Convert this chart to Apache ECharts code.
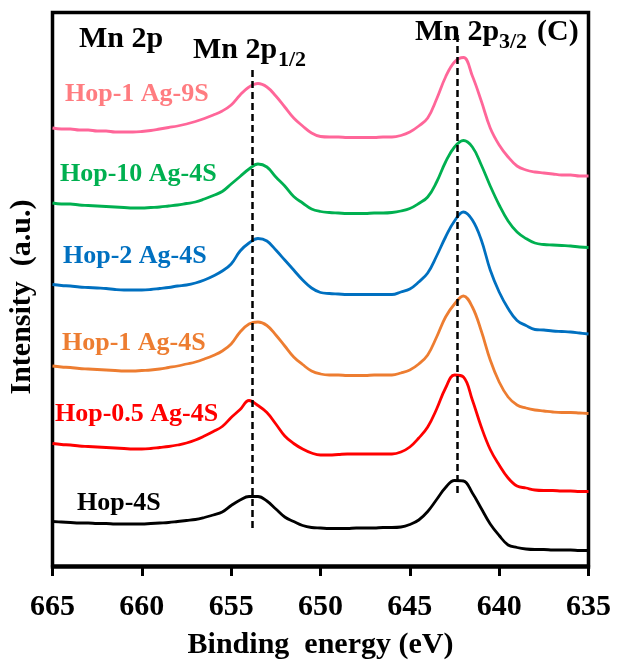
<!DOCTYPE html>
<html>
<head>
<meta charset="utf-8">
<script src="https://cdn.jsdelivr.net/npm/echarts@6/dist/echarts.min.js"></script>
<style>
html,body{margin:0;padding:0;background:#fff;}
#chart{width:618px;height:663px;}
</style>
</head>
<body>
<div id="chart"></div>
<script>
// Binding energy (eV), sampled every 0.5 eV
const energy = [665, 664.5, 664, 663.5, 663, 662.5, 662, 661.5, 661, 660.5,
  660, 659.5, 659, 658.5, 658, 657.5, 657, 656.5, 656, 655.5,
  655, 654.5, 654, 653.5, 653, 652.5, 652, 651.5, 651, 650.5,
  650, 649.5, 649, 648.5, 648, 647.5, 647, 646.5, 646, 645.5,
  645, 644.5, 644, 643.5, 643, 642.5, 642, 641.5, 641, 640.5,
  640, 639.5, 639, 638.5, 638, 637.5, 637, 636.5, 636, 635.5, 635];

// Offset intensities (a.u.)
const hop1Ag9S = [438, 437, 437, 436, 436, 435, 435, 434, 434, 434,
  434.5, 435.5, 437, 438.5, 440, 442, 444.5, 447.5, 451, 455,
  461, 471, 479, 482.5, 479, 470, 459, 448, 440, 433,
  429.5, 429, 429, 428.5, 428.5, 428.5, 428.5, 429, 429, 430.5,
  434, 440, 448, 467, 489, 504, 508.5, 490, 465, 438,
  421, 409, 400, 396, 394, 393, 392, 391, 391, 390, 390];

const hop10Ag4S = [363, 362, 362, 361, 360.5, 360, 359.5, 359, 358.5, 358,
  358, 358.5, 359, 360, 361, 362.5, 364, 367, 370.5, 374.5,
  382, 389.5, 397, 402, 399, 389, 380, 369.5, 363, 357,
  354.5, 353.5, 353, 352.5, 352.5, 352.5, 353, 353, 353.5, 355,
  357.5, 362.5, 369, 384, 404, 419, 425.5, 419, 401, 380,
  361, 345, 334, 327.5, 323, 321.5, 321, 320.5, 320, 319, 318.5];

const hop2Ag4S = [281.5, 280.5, 280, 279, 278.5, 278, 277.5, 276.5, 276, 276,
  276, 276.5, 277.5, 278.5, 280, 281, 283, 286, 290, 295,
  302, 315, 323, 327.5, 325, 316, 306, 296, 286, 278,
  273.5, 272.5, 272, 271.5, 271.5, 271.5, 271.5, 271.5, 271.5, 274,
  277, 284, 293, 310, 329, 345, 354, 346, 326, 296,
  274, 257.5, 245.5, 240.5, 236.5, 236, 235, 234.5, 234, 233, 232];

const hop1Ag4S = [200, 199, 198.5, 197.5, 197, 196.5, 196, 195.5, 195, 195,
  195.5, 196, 197, 198.5, 200, 202, 204, 207, 210.5, 215,
  222, 234, 242, 244, 240.5, 231, 220, 209, 201.5, 195,
  192, 191, 191, 190.5, 190.5, 190.5, 191, 191, 191, 193,
  196, 202, 211, 229, 249, 262, 270, 259, 235, 206,
  184, 169, 161, 158, 156, 155, 154, 153.5, 153.5, 153, 152.5];

const hop05Ag4S = [122.5, 121.5, 121, 120, 119.5, 119, 118.5, 118, 117.5, 117,
  117, 117.5, 118.5, 119.5, 121, 123, 126, 130, 134.5, 139.5,
  148.5, 156.5, 165.5, 160.5, 153.5, 142, 130, 122.5, 117, 113,
  111, 111, 111.5, 112, 112, 112, 112, 112, 112, 114,
  119, 128, 139, 157, 178, 191, 189, 166, 139, 116.5,
  101, 88, 80, 78, 76, 75.5, 75.5, 75, 75, 74.5, 74.5];

const hop4S = [44.5, 44, 43.5, 43, 43, 42.5, 42.5, 42, 42, 42,
  42, 42.5, 43, 43.5, 44.5, 45.5, 46.5, 48.5, 51, 54,
  60.5, 66, 69.5, 69.5, 65, 57, 49, 44.5, 40.5, 38.5,
  38, 37.5, 37.5, 37.5, 38, 38, 38, 38.5, 38.5, 39,
  41.5, 46, 54.5, 66.5, 78.5, 85.5, 85, 73, 57.5, 42,
  30.5, 21, 18.5, 17, 16.5, 16.5, 16, 16, 16, 15.5, 15.5];

const seriesNames = ['Hop-4S', 'Hop-0.5 Ag-4S', 'Hop-1 Ag-4S', 'Hop-2 Ag-4S', 'Hop-10 Ag-4S', 'Hop-1 Ag-9S'];
const seriesValues = [hop4S, hop05Ag4S, hop1Ag4S, hop2Ag4S, hop10Ag4S, hop1Ag9S];
const lineColors = ['#000000', '#FF0000', '#ED7D31', '#0070C0', '#00B050', '#FF6699'];
const labelColors = ['#000000', '#FF0000', '#ED7D31', '#0070C0', '#00B050', '#FF7C80'];

// Peak reference lines: [energy, intensity from, intensity to]
const peakLines = [[653.8, 38, 498], [642.35, 73, 531]];

const xTicks = [665, 660, 655, 650, 645, 640, 635];

const FONT = '"Liberation Serif", "Times New Roman", serif';

const chart = echarts.init(document.getElementById('chart'), null, {renderer: 'canvas'});

const series = seriesNames.map((name, i) => ({
  name: name,
  type: 'line',
  data: energy.map((e, j) => [e, seriesValues[i][j]]),
  showSymbol: false,
  smooth: 0.4,
  lineStyle: {color: lineColors[i], width: 2.8},
  itemStyle: {color: lineColors[i]},
  animation: false,
  z: 2
}));

series.push({
  type: 'line',
  data: [],
  silent: true,
  z: 5,
  markLine: {
    silent: true,
    animation: false,
    symbol: ['none', 'none'],
    label: {show: false},
    lineStyle: {color: '#000', type: [7, 4], width: 2.5},
    data: peakLines.map(p => [{coord: [p[0], p[1]]}, {coord: [p[0], p[2]]}])
  }
});

function txt(text, x, y, size, color) {
  return {
    type: 'text', x: x, y: y, z: 100, silent: true,
    style: {text: text, fill: color, font: 'bold ' + size + 'px ' + FONT, align: 'left', verticalAlign: 'middle'}
  };
}

const labelPos = [[77, 503], [55, 414], [62, 343], [63, 256], [60, 174], [65, 94.5]];
const graphics = seriesNames.map((n, i) => txt(n, labelPos[i][0], labelPos[i][1], 26, labelColors[i]));
graphics.push(txt('Mn 2p', 79, 39.5, 30, '#000'));
graphics.push(txt('Mn 2p', 193, 50, 30, '#000'));
graphics.push(txt('1/2', 278, 60.5, 22, '#000'));
graphics.push(txt('Mn 2p', 415, 31.8, 30, '#000'));
graphics.push(txt('3/2', 499, 42.6, 22, '#000'));
graphics.push(txt('(C)', 537, 31.8, 30, '#000'));
graphics.push({
  type: 'text', x: 22, y: 297, rotation: Math.PI / 2, z: 100, silent: true,
  style: {text: 'Intensity  (a.u.)', fill: '#000', font: 'bold 30px ' + FONT, align: 'center', verticalAlign: 'middle'}
});

chart.setOption({
  backgroundColor: '#fff',
  animation: false,
  grid: {
    left: 52.5, right: 29.5, top: 12.5, bottom: 96,
    show: true, borderColor: '#000', borderWidth: 3.5,
    containLabel: false, outerBoundsMode: 'none'
  },
  xAxis: {
    type: 'value',
    inverse: true,
    min: xTicks[xTicks.length - 1],
    max: xTicks[0],
    interval: 5,
    axisLine: {show: true, lineStyle: {color: '#000', width: 3.5}},
    axisTick: {show: true, inside: false, length: 10, lineStyle: {color: '#000', width: 3}},
    axisLabel: {
      show: true, margin: 25, color: '#000', fontSize: 30, fontWeight: 'bold', fontFamily: FONT,
      showMinLabel: true, showMaxLabel: true, hideOverlap: false
    },
    splitLine: {show: false},
    name: 'Binding  energy (eV)',
    nameLocation: 'middle',
    nameGap: 63,
    nameTextStyle: {color: '#000', fontSize: 30, fontWeight: 'bold', fontFamily: FONT}
  },
  yAxis: {
    type: 'value',
    min: -1,
    max: 553.5,
    axisLine: {show: false},
    axisTick: {show: false},
    axisLabel: {show: false},
    splitLine: {show: false}
  },
  series: series,
  graphic: graphics
});
</script>
</body>
</html>
